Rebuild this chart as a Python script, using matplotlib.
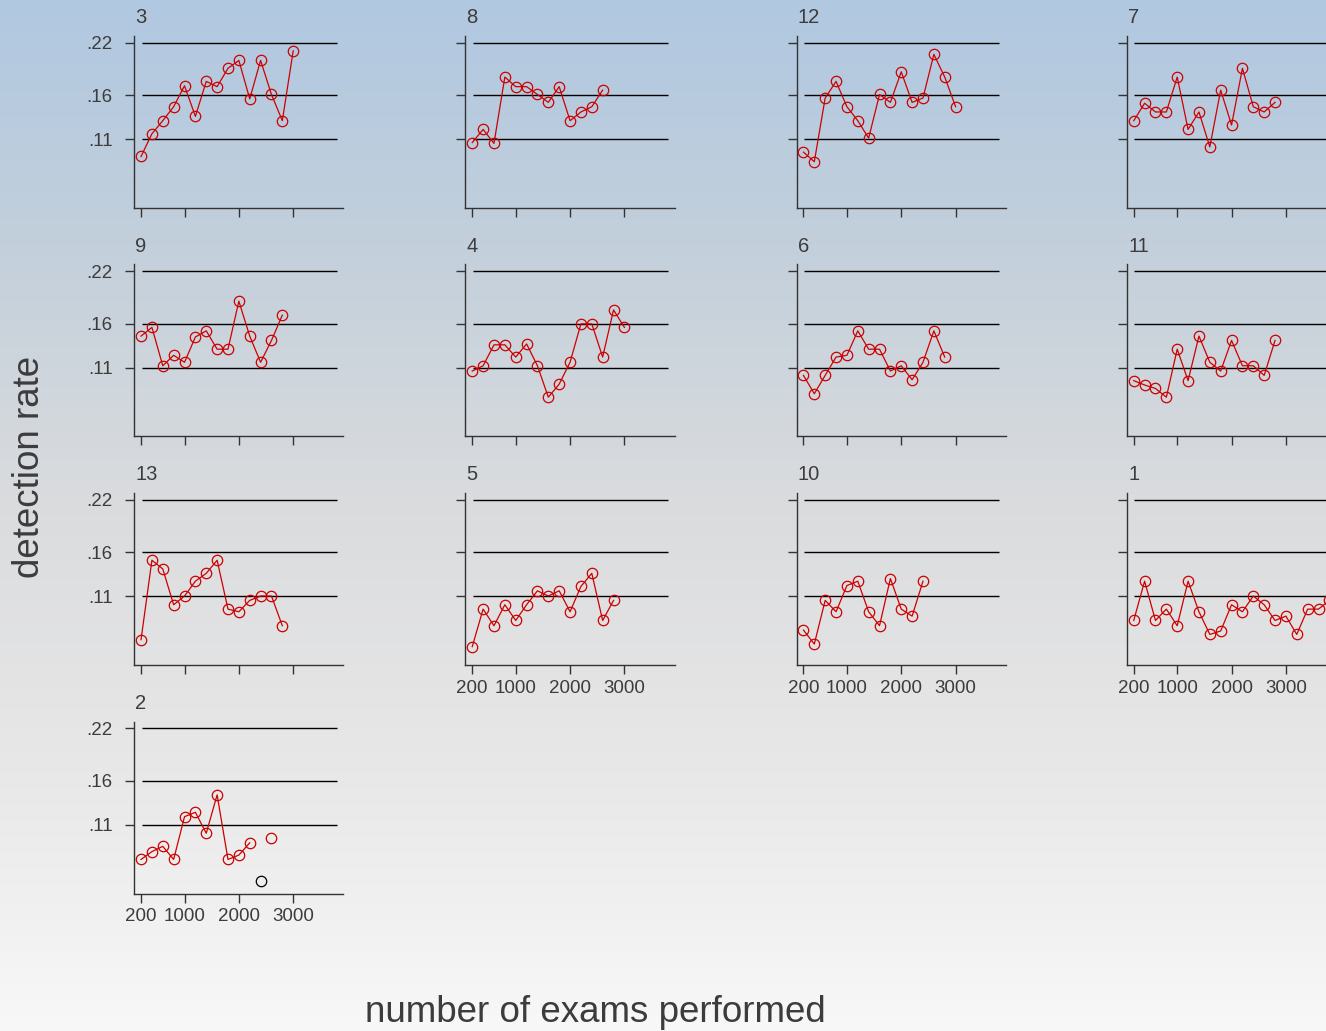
import matplotlib
matplotlib.use("Agg")
import matplotlib.pyplot as plt
import numpy as np

plt.rcParams["font.family"] = ["Liberation Sans", "DejaVu Sans"]

# panel order as drawn, left to right, top to bottom
panel_order = ["3", "8", "12", "7", "9", "4", "6", "11", "13", "5", "10", "1", "2"]

# detection rate per 200 exams
rate_3 = [0.090, 0.116, 0.131, 0.147, 0.171, 0.136, 0.176, 0.170, 0.191, 0.200,
          0.156, 0.200, 0.161, 0.131, 0.211]
rate_8 = [0.106, 0.121, 0.105, 0.181, 0.170, 0.170, 0.161, 0.152, 0.170, 0.131,
          0.141, 0.147, 0.166]
rate_12 = [0.095, 0.084, 0.157, 0.176, 0.147, 0.131, 0.111, 0.161, 0.152, 0.187,
           0.152, 0.157, 0.207, 0.181, 0.147]
rate_7 = [0.131, 0.151, 0.141, 0.141, 0.181, 0.121, 0.141, 0.101, 0.166, 0.126,
          0.191, 0.147, 0.141, 0.152]
rate_9 = [0.146, 0.156, 0.112, 0.124, 0.116, 0.145, 0.152, 0.131, 0.131, 0.186,
          0.146, 0.116, 0.141, 0.170]
rate_4 = [0.106, 0.112, 0.136, 0.136, 0.122, 0.137, 0.112, 0.076, 0.091, 0.116,
          0.160, 0.160, 0.122, 0.176, 0.156]
rate_6 = [0.101, 0.080, 0.101, 0.122, 0.124, 0.152, 0.131, 0.131, 0.106, 0.112,
          0.096, 0.116, 0.152, 0.122]
rate_11 = [0.095, 0.090, 0.086, 0.076, 0.131, 0.095, 0.146, 0.116, 0.106, 0.141,
           0.112, 0.112, 0.101, 0.141]
rate_13 = [0.060, 0.151, 0.141, 0.100, 0.110, 0.127, 0.136, 0.151, 0.095, 0.092,
           0.105, 0.110, 0.110, 0.076]
rate_5 = [0.052, 0.095, 0.076, 0.100, 0.082, 0.100, 0.116, 0.110, 0.116, 0.092,
          0.121, 0.136, 0.082, 0.105]
rate_10 = [0.071, 0.055, 0.105, 0.092, 0.122, 0.127, 0.092, 0.076, 0.130, 0.095,
           0.087, 0.127]
rate_1 = [0.082, 0.127, 0.082, 0.095, 0.076, 0.127, 0.092, 0.066, 0.070, 0.100,
          0.092, 0.110, 0.100, 0.082, 0.087, 0.066, 0.095, 0.095, 0.105]
rate_2 = [0.070, 0.079, 0.085, 0.070, 0.119, 0.124, 0.100, 0.144, 0.070, 0.075,
          0.089, np.nan, 0.095]
# the odd black point in panel 2
odd_x_2 = [2400]
odd_rate_2 = [0.045]

rates = {"3": rate_3, "8": rate_8, "12": rate_12, "7": rate_7, "9": rate_9,
         "4": rate_4, "6": rate_6, "11": rate_11, "13": rate_13, "5": rate_5,
         "10": rate_10, "1": rate_1, "2": rate_2}

y_ticks = [0.11, 0.16, 0.22]
y_tick_labels = [".11", ".16", ".22"]
x_ticks = [200, 1000, 2000, 3000]
x_tick_labels = ["200", "1000", "2000", "3000"]

W, H = 1326, 1031
fig = plt.figure(figsize=(W / 100, H / 100), dpi=100)

# background gradient
bg = fig.add_axes([0, 0, 1, 1], zorder=-10)
stops = np.array([0.0, 0.25, 0.5, 0.75, 1.0])
cols = np.array([[176, 200, 225], [196, 208, 219], [219, 220, 222],
                 [232, 232, 232], [248, 248, 248]]) / 255
t = np.linspace(0, 1, 512)
grad = np.stack([np.interp(t, stops, cols[:, c]) for c in range(3)], axis=1)
bg.imshow(grad[:, None, :], aspect="auto", extent=[0, 1, 0, 1])
bg.axis("off")

col_left = [134.3, 465.5, 796.7, 1127.0]
row_top = [36.0, 264.5, 493.0, 721.5]
ax_w, ax_h = 209.0, 172.0

text_col = "#3c3c3c"
line_col = "#cc0000"

for idx, name in enumerate(panel_order):
    r, c = divmod(idx, 4)
    left = col_left[c] / W
    bottom = 1 - (row_top[r] + ax_h) / H
    ax = fig.add_axes([left, bottom, ax_w / W, ax_h / H])
    ax.patch.set_alpha(0)

    vals = np.array(rates[name])
    xs = 200 * np.arange(1, len(vals) + 1)

    ax.hlines(y_ticks, 210, 3800, color="black", lw=1.0, zorder=1)
    ax.plot(xs, vals, color=line_col, lw=0.9, zorder=2)
    ax.plot(xs, vals, ls="none", marker="o", ms=7.5, mfc="none",
            mec=line_col, mew=0.9, zorder=3)
    if name == "2":
        ax.plot(odd_x_2, odd_rate_2, ls="none", marker="o", ms=7.5, mfc="none",
                mec="black", mew=0.9, zorder=3)

    ax.set_xlim(76, 3922)
    ax.set_ylim(0.031, 0.228)

    for s in ["top", "right"]:
        ax.spines[s].set_visible(False)
    for s in ["left", "bottom"]:
        ax.spines[s].set_color("#333333")
        ax.spines[s].set_linewidth(1.0)

    ax.set_yticks(y_ticks)
    ax.set_xticks(x_ticks)
    ax.tick_params(length=6.5, width=1.0, color="#333333",
                   labelsize=13.5, labelcolor=text_col)
    ax.tick_params(axis="y", pad=9)
    ax.tick_params(axis="x", pad=4)
    if c == 0:
        ax.set_yticklabels(y_tick_labels)
    else:
        ax.set_yticklabels([])
    last_in_col = (r == 3) or (r == 2 and c > 0)
    if last_in_col:
        ax.set_xticklabels(x_tick_labels)
    else:
        ax.set_xticklabels([])

    ax.text(0.005, 1.05, name, transform=ax.transAxes, ha="left", va="bottom",
            fontsize=14.5, color=text_col)

fig.text(30 / W, 1 - 467 / H, "detection rate", rotation=90, ha="center",
         va="center", fontsize=26.5, color=text_col)
fig.text(595 / W, 1 - 1012 / H, "number of exams performed", ha="center",
         va="center", fontsize=26.5, color=text_col)

fig.savefig("out.png", dpi=100)
